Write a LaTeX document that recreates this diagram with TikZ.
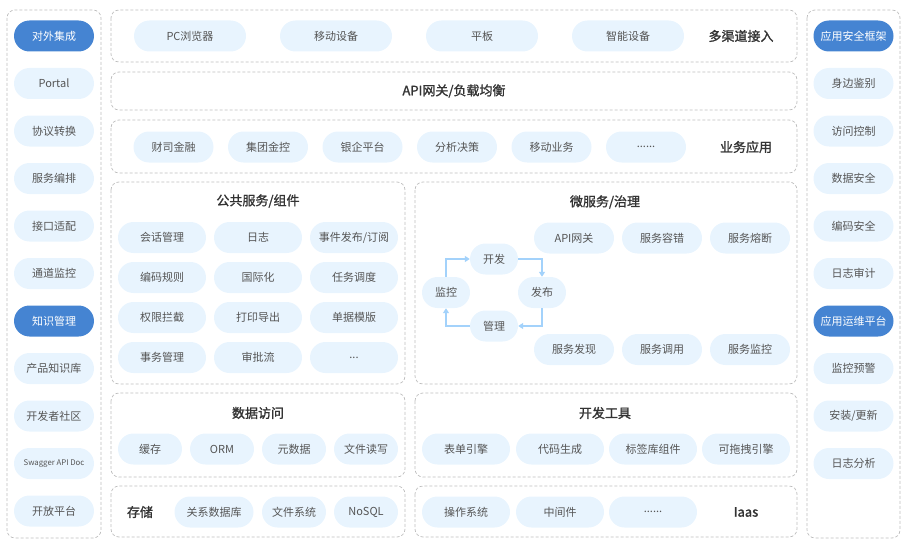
\documentclass[tikz,border=0pt]{standalone}
\usepackage{fontspec}
\setmainfont{Noto Sans CJK SC}
\newfontfamily\medfont{Noto Sans CJK SC}[FakeBold=1.4]
\usetikzlibrary{arrows.meta}
\definecolor{pillbg}{HTML}{E8F4FE}
\definecolor{pilltxt}{HTML}{555555}
\definecolor{hlbg}{HTML}{4584D2}
\definecolor{paneline}{HTML}{BDBDBD}
\definecolor{titletxt}{HTML}{333333}
\definecolor{cyc}{HTML}{A3D2FB}
\tikzset{
  panel/.style={draw=paneline, line width=0.7pt, dash pattern=on 3pt off 2pt, rounded corners=8pt},
  pill/.style={fill=pillbg, rounded corners=15.5pt, minimum height=31pt, inner sep=0pt,
    text=pilltxt, font=\fontsize{11}{11}\selectfont},
  hl/.style={pill, fill=hlbg, text=white},
  ttl/.style={text=titletxt, font=\medfont\fontsize{13}{13}\selectfont, inner sep=0pt},
  cycarrow/.style={draw=cyc, line width=1.6pt, -{Triangle[width=6pt,length=5pt]}},
}
\newcommand{\mypill}[6][pill]{\node[#1, minimum width=#5pt] (#2) at (#3,#4) {#6};}
\begin{document}
\begin{tikzpicture}[x=1pt,y=-1pt]
\useasboundingbox (0,0) rectangle (911,543);
% panels
\draw[panel] (7,10) rectangle (101,538);
\draw[panel] (807,10) rectangle (900,538);
\draw[panel] (111,10) rectangle (797,62);
\draw[panel] (111,72) rectangle (797,110);
\draw[panel] (111,120) rectangle (797,173);
\draw[panel] (111,182) rectangle (405,384);
\draw[panel] (415,182) rectangle (797,384);
\draw[panel] (111,393) rectangle (405,477);
\draw[panel] (415,393) rectangle (797,477);
\draw[panel] (111,486) rectangle (405,537);
\draw[panel] (415,486) rectangle (797,537);
% left column
\mypill[hl]{l1}{54}{36}{80}{对外集成}
\mypill{l2}{54}{83.5}{80}{Portal}
\mypill{l3}{54}{131}{80}{协议转换}
\mypill{l4}{54}{178.5}{80}{服务编排}
\mypill{l5}{54}{226}{80}{接口适配}
\mypill{l6}{54}{273.5}{80}{通道监控}
\mypill[hl]{l7}{54}{321}{80}{知识管理}
\mypill{l8}{54}{368.5}{80}{产品知识库}
\mypill{l9}{54}{416}{80}{开发者社区}
\node[pill, minimum width=80pt, font=\fontsize{7.8}{8}\selectfont] (l10) at (54,463.5) {Swagger API Doc};
\mypill{l11}{54}{511}{80}{开放平台}
% right column
\mypill[hl]{r1}{853.5}{36}{80}{应用安全框架}
\mypill{r2}{853.5}{83.5}{80}{身边鉴别}
\mypill{r3}{853.5}{131}{80}{访问控制}
\mypill{r4}{853.5}{178.5}{80}{数据安全}
\mypill{r5}{853.5}{226}{80}{编码安全}
\mypill{r6}{853.5}{273.5}{80}{日志审计}
\mypill[hl]{r7}{853.5}{321}{80}{应用运维平台}
\mypill{r8}{853.5}{368.5}{80}{监控预警}
\mypill{r9}{853.5}{416}{80}{安装/更新}
\mypill{r10}{853.5}{463.5}{80}{日志分析}
% top row
\mypill{t1}{190}{36}{112}{PC浏览器}
\mypill{t2}{336}{36}{112}{移动设备}
\mypill{t3}{482}{36}{112}{平板}
\mypill{t4}{628}{36}{112}{智能设备}
\node[ttl] (tt) at (741,36) {多渠道接入};
% api
\node[ttl] (api) at (454,91) {API网关/负载均衡};
% business
\mypill{b1}{173.5}{147}{80}{财司金融}
\mypill{b2}{268}{147}{80}{集团金控}
\mypill{b3}{362.5}{147}{80}{银企平台}
\mypill{b4}{457}{147}{80}{分析决策}
\mypill{b5}{551.5}{147}{80}{移动业务}
\mypill{b6}{646}{147}{80}{......}
\node[ttl] (bt) at (746,147) {业务应用};
% public services
\node[ttl] (pt) at (258,201) {公共服务/组件};
\mypill{p1}{162}{237.5}{88}{会话管理}
\mypill{p2}{258}{237.5}{88}{日志}
\mypill{p3}{354}{237.5}{88}{事件发布/订阅}
\mypill{p4}{162}{277.5}{88}{编码规则}
\mypill{p5}{258}{277.5}{88}{国际化}
\mypill{p6}{354}{277.5}{88}{任务调度}
\mypill{p7}{162}{317.5}{88}{权限拦截}
\mypill{p8}{258}{317.5}{88}{打印导出}
\mypill{p9}{354}{317.5}{88}{单据模版}
\mypill{p10}{162}{357.5}{88}{事务管理}
\mypill{p11}{258}{357.5}{88}{审批流}
\mypill{p12}{354}{357.5}{88}{...}
% microservices
\node[ttl] (mt) at (605,202) {微服务/治理};
\mypill{m1}{574}{238}{80}{API网关}
\mypill{m2}{662}{238}{80}{服务容错}
\mypill{m3}{750}{238}{80}{服务熔断}
\mypill{m4}{574}{349.5}{80}{服务发现}
\mypill{m5}{662}{349.5}{80}{服务调用}
\mypill{m6}{750}{349.5}{80}{服务监控}
\mypill{c1}{494}{259}{48}{开发}
\mypill{c2}{542}{292.5}{48}{发布}
\mypill{c3}{494}{326}{48}{管理}
\mypill{c4}{446}{292.5}{48}{监控}
\draw[cycarrow] (c4.north) |- (c1.west);
\draw[cycarrow] (c1.east) -| (c2.north);
\draw[cycarrow] (c2.south) |- (c3.east);
\draw[cycarrow] (c3.west) -| (c4.south);
% data access
\node[ttl] (dt) at (258,413) {数据访问};
\mypill{d1}{150}{449}{64}{缓存}
\mypill{d2}{222}{449}{64}{ORM}
\mypill{d3}{294}{449}{64}{元数据}
\mypill{d4}{366}{449}{64}{文件读写}
% dev tools
\node[ttl] (vt) at (605,413) {开发工具};
\mypill{v1}{466}{449}{88}{表单引擎}
\mypill{v2}{560}{449}{88}{代码生成}
\mypill{v3}{653}{449}{88}{标签库组件}
\mypill{v4}{746}{449}{88}{可拖拽引擎}
% storage
\node[ttl] (st) at (140,512) {存储};
\mypill{s1}{214}{512}{79}{关系数据库}
\mypill{s2}{294}{512}{64}{文件系统}
\mypill{s3}{366}{512}{64}{NoSQL}
% iaas
\mypill{i1}{466}{512}{88}{操作系统}
\mypill{i2}{560}{512}{88}{中间件}
\mypill{i3}{653}{512}{88}{......}
\node[ttl] (it) at (746,512) {Iaas};
\end{tikzpicture}
\end{document}
